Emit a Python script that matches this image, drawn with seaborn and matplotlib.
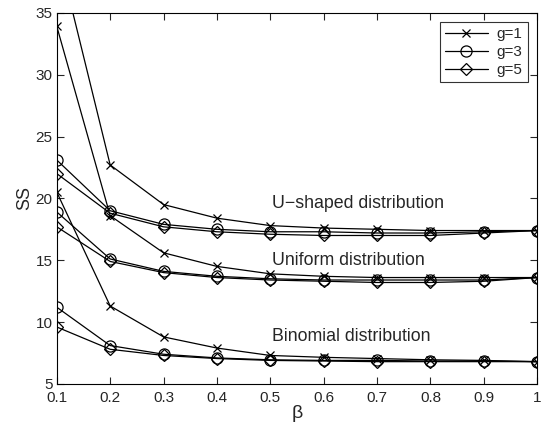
import numpy as np
import pandas as pd
import matplotlib
matplotlib.use('Agg')
import matplotlib.pyplot as plt
import seaborn as sns

beta = [0.1, 0.2, 0.3, 0.4, 0.5, 0.6, 0.7, 0.8, 0.9, 1.0]

# U-shaped distribution
u_g1 = [40.3, 22.7, 19.5, 18.4, 17.8, 17.6, 17.5, 17.4, 17.4, 17.4]
u_g3 = [23.1, 19.0, 17.9, 17.5, 17.3, 17.3, 17.2, 17.2, 17.3, 17.4]
u_g5 = [22.0, 18.8, 17.7, 17.3, 17.1, 17.0, 17.0, 17.0, 17.2, 17.4]

# Uniform distribution
f_g1 = [33.9, 18.6, 15.6, 14.5, 13.9, 13.7, 13.6, 13.6, 13.6, 13.6]
f_g3 = [18.9, 15.1, 14.1, 13.7, 13.5, 13.4, 13.4, 13.4, 13.4, 13.6]
f_g5 = [17.7, 14.9, 14.0, 13.6, 13.4, 13.3, 13.2, 13.2, 13.3, 13.6]

# Binomial distribution
b_g1 = [20.5, 11.3, 8.8, 7.9, 7.3, 7.15, 7.05, 6.95, 6.9, 6.8]
b_g3 = [11.2, 8.1, 7.4, 7.1, 6.95, 6.9, 6.9, 6.85, 6.85, 6.8]
b_g5 = [9.6, 7.8, 7.3, 7.05, 6.9, 6.85, 6.8, 6.8, 6.8, 6.8]

series = {
    ('U-shaped', 'g=1'): u_g1, ('U-shaped', 'g=3'): u_g3, ('U-shaped', 'g=5'): u_g5,
    ('Uniform', 'g=1'): f_g1, ('Uniform', 'g=3'): f_g3, ('Uniform', 'g=5'): f_g5,
    ('Binomial', 'g=1'): b_g1, ('Binomial', 'g=3'): b_g3, ('Binomial', 'g=5'): b_g5,
}
rows = []
for (dist, g), vals in series.items():
    for b, v in zip(beta, vals):
        rows.append({'dist': dist, 'g': g, 'beta': b, 'SS': v})
df = pd.DataFrame(rows)

sns.set_style('ticks')
plt.rcParams['font.family'] = ['Liberation Sans', 'DejaVu Sans']

markers = {'g=1': 'x', 'g=3': 'o', 'g=5': 'D'}
sizes = {'g=1': 6, 'g=3': 8, 'g=5': 6}

fig = plt.figure(figsize=(5.41, 4.28), dpi=100)
ax = fig.add_axes([0.105, 0.103, 0.888, 0.867])

for dist in ['U-shaped', 'Uniform', 'Binomial']:
    for g in ['g=1', 'g=3', 'g=5']:
        sub = df[(df['dist'] == dist) & (df['g'] == g)]
        sns.lineplot(data=sub, x='beta', y='SS', ax=ax, color='black', lw=0.9,
                     marker=markers[g], markersize=sizes[g], markerfacecolor='none',
                     markeredgecolor='black', markeredgewidth=0.9,
                     label=g if dist == 'U-shaped' else None, estimator=None)

ax.text(0.503, 19.6, 'U\u2212shaped distribution', fontsize=12.8, va='center')
ax.text(0.503, 15.0, 'Uniform distribution', fontsize=12.8, va='center')
ax.text(0.503, 8.8, 'Binomial distribution', fontsize=12.8, va='center')

ax.set_xlim(0.1, 1.0)
ax.set_ylim(5, 35)
ax.set_xticks(beta)
ax.set_xticklabels(['0.1', '0.2', '0.3', '0.4', '0.5', '0.6', '0.7', '0.8', '0.9', '1'])
ax.set_yticks([5, 10, 15, 20, 25, 30, 35])
ax.tick_params(direction='in', length=5, labelsize=11, top=True, right=True)
ax.tick_params(axis='x', pad=5)
ax.tick_params(axis='y', pad=3)
for s in ax.spines.values():
    s.set_visible(True)
    s.set_linewidth(0.8)
    s.set_color('black')
ax.set_xlabel('\u03b2', fontsize=14, labelpad=0)
ax.set_ylabel('SS', fontsize=13, labelpad=2)

leg = ax.legend(loc='upper right', fontsize=11, frameon=True, fancybox=False,
                edgecolor='black', borderaxespad=0.6, handlelength=2.8,
                labelspacing=0.25, borderpad=0.35, handletextpad=0.6)
leg.get_frame().set_linewidth(0.8)

fig.savefig('out.png', dpi=100)
